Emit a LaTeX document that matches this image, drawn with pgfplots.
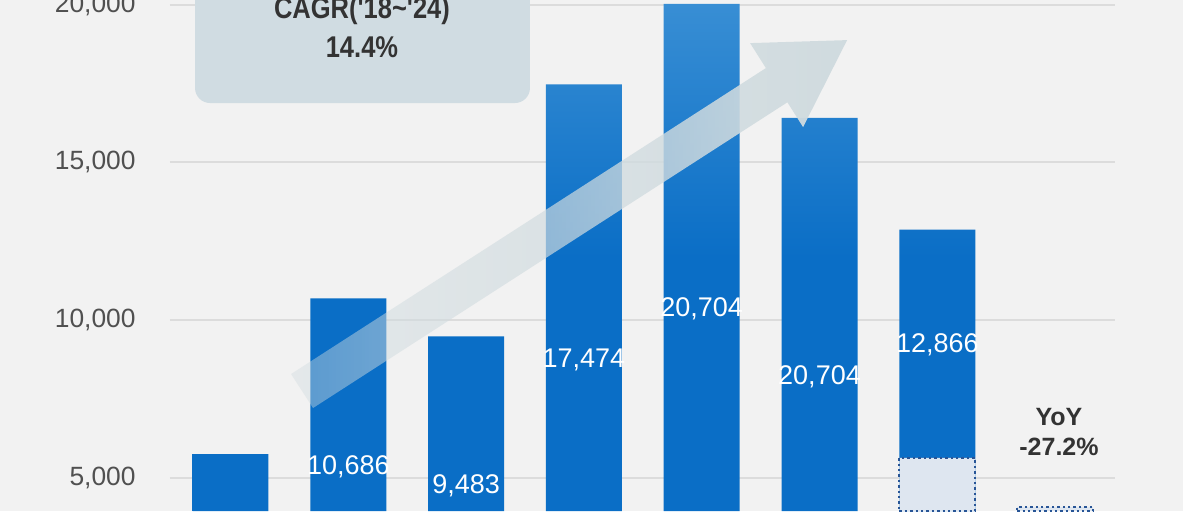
\documentclass[border=0pt]{standalone}
\usepackage{fontspec}
\setmainfont{Liberation Sans}
\newfontfamily\condfont[FakeStretch=0.85]{Liberation Sans}
\usepackage{pgfplots}
\pgfplotsset{compat=1.18}
\usepackage{pgfplotstable}
\usetikzlibrary{backgrounds,fadings}

\definecolor{bgcol}{RGB}{242,242,242}
\definecolor{gridcol}{RGB}{220,220,220}
\definecolor{tickcol}{RGB}{80,80,80}
\definecolor{textdark}{RGB}{51,51,51}
\definecolor{barlight}{RGB}{56,142,212}
\definecolor{bardark}{RGB}{10,110,198}
\definecolor{boxcol}{RGB}{208,220,226}
\definecolor{arrowcol}{RGB}{208,219,223}
\definecolor{lightfill}{RGB}{222,230,240}
\definecolor{dotcol}{RGB}{40,85,150}

\tikzfading[name=arrowfade, left color=transparent!60, right color=transparent!0]

% bar heights as drawn
\pgfplotstableread{
x y
0 5753
1 10686
2 9483
3 17474
4 20020
5 16405
6 12866
}\bars

% dotted (outlook) parts
\pgfplotstableread{
x y
6 5627
7 4073
}\outlook

% value labels inside the bars
\pgfplotstableread{
x y label
1 5341 10,686
2 4739 9,483
3 8734 17,474
4 10366 20,704
5 8210 20,704
6 9209 12,866
}\barlabels

\begin{document}
\begin{tikzpicture}
\begin{axis}[
    scale only axis,
    width=472.5pt, height=255.5pt,
    xmin=-0.5136, xmax=7.5085,
    ymin=3946.65, ymax=20145.35,
    axis line style={draw=none},
    xtick=\empty,
    ytick={5000,10000,15000,20000},
    scaled y ticks=false,
    major tick length=0pt,
    ymajorgrids,
    grid style={gridcol, line width=1pt},
    yticklabel style={text=tickcol, font=\fontsize{13.2}{15}\selectfont, inner sep=0pt, anchor=east, xshift=-17pt},
    /pgf/number format/.cd, 1000 sep={,}, assume math mode=true,
]

\addplot[ybar, bar width=0.645, bar shift=0pt, draw=none,
    top color=barlight, bottom color=bardark, middle color=bardark] table {\bars};

\addplot[ybar, bar width=0.645, bar shift=0pt, fill=lightfill,
    draw=dotcol, line width=1pt, dash pattern=on 1.2pt off 1.5pt] table {\outlook};

\addplot[draw=none, nodes near coords, point meta=explicit symbolic,
    every node near coord/.style={anchor=center, text=white, inner sep=0pt,
        font=\fontsize{13.5}{15}\selectfont}] table[meta=label] {\barlabels};

% growth arrow
\fill[arrowcol, path fading=arrowfade]
    (axis cs:0.7003,7212) -- (axis cs:0.5136,8290) -- (axis cs:4.5442,17990)
    -- (axis cs:4.4100,18782) -- (axis cs:5.2334,18877) -- (axis cs:4.8599,16119)
    -- (axis cs:4.7267,16905) -- cycle;

% CAGR box
\fill[boxcol, rounded corners=7.5pt] (axis cs:-0.301,16880) rectangle (axis cs:2.542,21095);
\node[anchor=base, text=textdark, font=\condfont\bfseries\fontsize{15}{18}\selectfont]
    at (axis cs:1.116,19560) {CAGR('18\textasciitilde'24)};
\node[anchor=base, text=textdark, font=\condfont\bfseries\fontsize{15}{18}\selectfont]
    at (axis cs:1.116,18323) {14.4\%};

% YoY note
\node[anchor=base, text=textdark, font=\bfseries\fontsize{12.5}{15}\selectfont]
    at (axis cs:7.033,6673) {YoY};
\node[anchor=base, text=textdark, font=\bfseries\fontsize{12.5}{15}\selectfont]
    at (axis cs:7.033,5722) {-27.2\%};
\end{axis}

\begin{scope}[on background layer]
\fill[bgcol] ([xshift=-85pt]current axis.south west) rectangle ([xshift=42.5pt]current axis.north east);
\end{scope}
\fill[white] ([xshift=34pt]current axis.south east) rectangle ([xshift=42.5pt]current axis.north east);
\pgfresetboundingbox
\path ([xshift=-85pt]current axis.south west) rectangle ([xshift=42.5pt]current axis.north east);
\end{tikzpicture}
\end{document}
